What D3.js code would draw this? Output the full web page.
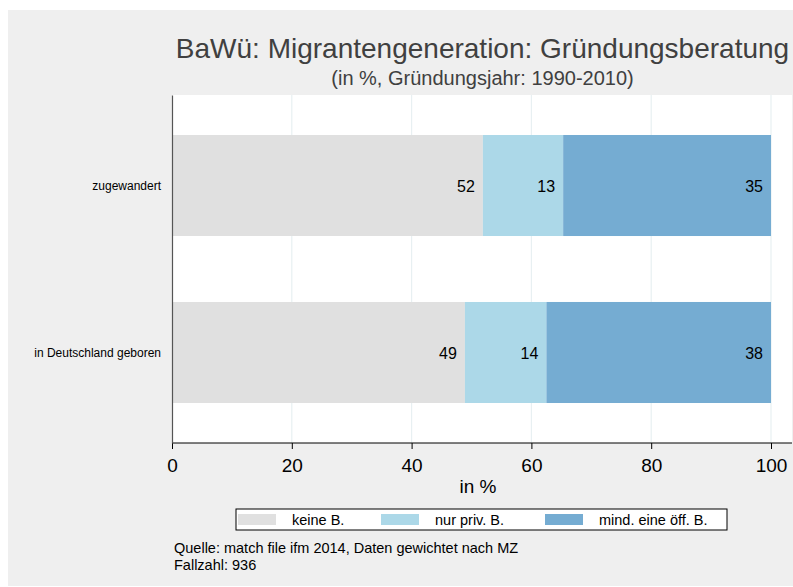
<!DOCTYPE html>
<html>
<head>
<meta charset="utf-8">
<script src="https://cdn.jsdelivr.net/npm/d3@7"></script>
<style>
  body { margin: 0; background: #fff; }
  text { font-family: "Liberation Sans", Arial, sans-serif; }
</style>
</head>
<body>
<div id="chart"></div>
<script>
// data
var categories = ["zugewandert", "in Deutschland geboren"];
var seriesNames = ["keine B.", "nur priv. B.", "mind. eine öff. B."];
var keineB = [51.9, 48.9];
var nurPrivB = [13.4, 13.6];
var oeffB = [34.7, 37.5];
var xTicks = [0, 20, 40, 60, 80, 100];
var noteLines = ["Quelle: match file ifm 2014, Daten gewichtet nach MZ", "Fallzahl: 936"];
var colors = ["#e0e0e0", "#acd8e8", "#75acd2"];

var svgWidth = 793, svgHeight = 587;
var margin = { top: 95, right: 1, bottom: 144, left: 172 };
var chartWidth = 599;
var chartHeight = svgHeight - margin.top - margin.bottom;

var svg = d3.select("#chart").append("svg")
  .attr("width", svgWidth)
  .attr("height", svgHeight);

// outer gray frame
svg.append("rect")
  .attr("x", 8).attr("y", 10)
  .attr("width", svgWidth - 8).attr("height", 576)
  .attr("fill", "#efefef");

// plot region
svg.append("rect")
  .attr("x", margin.left).attr("y", margin.top)
  .attr("width", svgWidth - margin.left - margin.right)
  .attr("height", chartHeight)
  .attr("fill", "#fff");

var g = svg.append("g")
  .attr("transform", `translate(${margin.left}, ${margin.top})`);

var x = d3.scaleLinear().domain([0, 100]).range([0, chartWidth]);
var y = d3.scaleBand().domain(categories).range([0, chartHeight])
  .paddingInner(0.395).paddingOuter(0.2395);

// grid lines
g.selectAll(".grid").data(xTicks.slice(1)).enter().append("line")
  .attr("x1", d => x(d)).attr("x2", d => x(d))
  .attr("y1", 0).attr("y2", chartHeight)
  .attr("stroke", "#e8f0f2").attr("stroke-width", 1.2);

// stack the series
var rows = categories.map(function(c, i) {
  return { cat: c, "keine B.": keineB[i], "nur priv. B.": nurPrivB[i], "mind. eine öff. B.": oeffB[i] };
});
var stack = d3.stack().keys(seriesNames)(rows);

stack.forEach(function(layer, k) {
  g.selectAll(".bar" + k).data(layer).enter().append("rect")
    .attr("x", d => x(d[0]))
    .attr("y", d => y(d.data.cat))
    .attr("width", d => x(d[1]) - x(d[0]))
    .attr("height", y.bandwidth())
    .attr("fill", colors[k]);

  g.selectAll(".lab" + k).data(layer).enter().append("text")
    .attr("x", d => x(d[1]) - 8)
    .attr("y", d => y(d.data.cat) + y.bandwidth() / 2 + 6.5)
    .attr("text-anchor", "end")
    .attr("font-size", "16px")
    .attr("fill", "#000")
    .text(d => Math.round(d[1] - d[0]));
});

// axes
var bottomAxis = d3.axisBottom(x).tickValues(xTicks).tickSize(6).tickPadding(10);
var xAxisG = g.append("g")
  .attr("transform", `translate(0, ${chartHeight})`)
  .call(bottomAxis);
xAxisG.select(".domain").remove();
xAxisG.append("line").attr("x1", 0).attr("x2", svgWidth - margin.left - margin.right)
  .attr("stroke", "#000").attr("stroke-width", 1);
xAxisG.selectAll(".tick line").attr("stroke", "#000");
xAxisG.selectAll(".tick text").attr("font-size", "19px").attr("fill", "#000")
  .attr("font-family", "Liberation Sans, Arial, sans-serif");

var leftAxis = d3.axisLeft(y).tickSize(0).tickPadding(11);
var yAxisG = g.append("g").call(leftAxis);
yAxisG.select(".domain").attr("stroke", "#555").attr("stroke-width", 1.2);
yAxisG.selectAll(".tick text").attr("font-size", "12px").attr("fill", "#000")
  .attr("dy", "0.35em")
  .attr("font-family", "Liberation Sans, Arial, sans-serif");

// axis title
svg.append("text")
  .attr("x", 478).attr("y", 493)
  .attr("text-anchor", "middle").attr("font-size", "19px").attr("fill", "#000")
  .text("in %");

// titles
var cx = (margin.left + svgWidth) / 2;
svg.append("text")
  .attr("x", cx).attr("y", 58)
  .attr("text-anchor", "middle").attr("font-size", "28px").attr("fill", "#404040")
  .text("BaWü: Migrantengeneration: Gründungsberatung");
svg.append("text")
  .attr("x", cx).attr("y", 85)
  .attr("text-anchor", "middle").attr("font-size", "20px").attr("fill", "#404040")
  .text("(in %, Gründungsjahr: 1990-2010)");

// legend
var legend = svg.append("g").attr("transform", "translate(236, 509)");
legend.append("rect").attr("width", 491).attr("height", 21)
  .attr("fill", "#fff").attr("stroke", "#000").attr("stroke-width", 1);
var legX = [2, 145, 309];
seriesNames.forEach(function(name, k) {
  legend.append("rect").attr("x", legX[k]).attr("y", 5)
    .attr("width", 38).attr("height", 11).attr("fill", colors[k]);
  legend.append("text").attr("x", legX[k] + 54).attr("y", 16)
    .attr("font-size", "14.5px").attr("fill", "#000").text(name);
});

// notes, two lines
noteLines.forEach(function(line, i) {
  svg.append("text").attr("x", 174).attr("y", 553 + i * 17)
    .attr("font-size", "14.5px").attr("fill", "#000")
    .text(line);
});
</script>
</body>
</html>
